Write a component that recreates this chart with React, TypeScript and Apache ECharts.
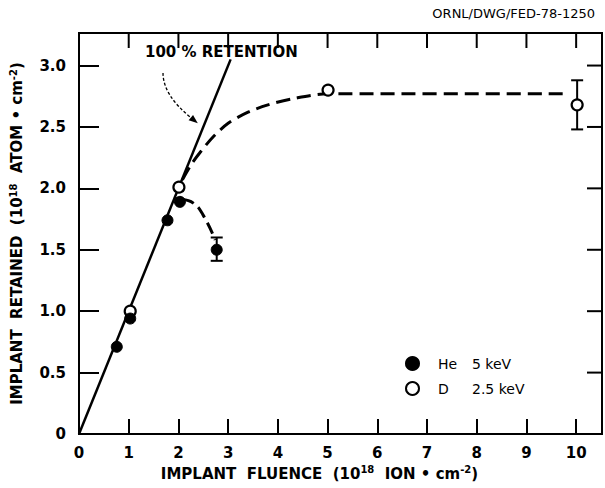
import React, { useEffect, useRef } from "react";
import * as echarts from "echarts";

// Data
const heFluence = [0.76, 1.03, 1.78, 2.03, 2.77];
const heRetained = [0.71, 0.94, 1.74, 1.89, 1.5];
const dFluence = [1.03, 2.01, 5.01, 10.02];
const dRetained = [1.0, 2.01, 2.8, 2.68];
const errX = [2.77, 10.02];
const errLow = [1.41, 2.48];
const errHigh = [1.6, 2.88];
const retentionX = [0, 3.05];
const retentionY = [0, 3.05];
const dFitX = [2.08, 2.25, 2.45, 2.7, 3.0, 3.4, 3.8, 4.3, 5.0, 9.78];
const dFitY = [2.07, 2.19, 2.3, 2.42, 2.53, 2.62, 2.68, 2.73, 2.77, 2.77];
const heFitX = [2.08, 2.3, 2.5, 2.74];
const heFitY = [1.91, 1.88, 1.78, 1.58];
// annotation arrow: start, control, end (data units)
const arrowPts = [1.69, 2.94, 1.69, 2.76, 2.39, 2.53];
const xTicks = [0, 1, 2, 3, 4, 5, 6, 7, 8, 9, 10];
const yTicks = [0, 0.5, 1.0, 1.5, 2.0, 2.5, 3.0];
const X_MAX = 10.52;
const Y_MAX = 3.265;

const FONT = "DejaVu Sans";
const zip = (a: number[], b: number[]) => a.map((v, i) => [v, b[i]]);

export default function App() {
  const ref = useRef<HTMLDivElement>(null);
  useEffect(() => {
    const chart = echarts.init(ref.current!, undefined, { renderer: "svg" });
    const xLabel = (v: number) => (xTicks.includes(Math.round(v * 100) / 100) ? String(v) : "");
    const yLabel = (v: number) => {
      const r = Math.round(v * 100) / 100;
      if (!yTicks.includes(r)) return "";
      return r === 0 ? "0" : r.toFixed(1);
    };
    const supRich = {
      sup: {
        fontSize: 10,
        fontWeight: "bold",
        verticalAlign: "bottom",
        padding: [0, 0, 8, 0],
        fontFamily: FONT,
        color: "#000",
      },
    };
    const stroke = { stroke: "#000", lineWidth: 2 };
    // frame items: [kind, value] kind 0 = top edge, 1 = right edge, 2 = top tick, 3 = right tick
    const frameData = [
      [0, 0],
      [1, 0],
      ...xTicks.filter((v) => v > 0).map((v) => [2, v]),
      ...yTicks.filter((v) => v > 0).map((v) => [3, v]),
    ];
    chart.setOption({
      animation: false,
      title: [
        {
          text: "ORNL/DWG/FED-78-1250",
          right: 5,
          top: 2,
          textStyle: { fontFamily: FONT, fontSize: 13, fontWeight: "normal", color: "#000" },
        },
        {
          text: "100 % RETENTION",
          left: 140,
          top: 39,
          textStyle: { fontFamily: FONT, fontSize: 15, fontWeight: "bold", color: "#000" },
        },
      ],
      grid: { left: 79, right: 3, top: 33, bottom: 54, show: true, borderColor: "#000", borderWidth: 2 },
      legend: {
        orient: "vertical",
        left: 400,
        top: 351,
        itemWidth: 13,
        itemHeight: 13,
        itemGap: 10,
        data: ["He 5 keV", "D 2.5 keV"],
        formatter: (name: string) => {
          const [a, ...rest] = name.split(" ");
          return `{a|${a}}{b|${rest.join(" ")}}`;
        },
        textStyle: {
          fontFamily: FONT,
          fontSize: 14,
          color: "#000",
          padding: [0, 0, 0, 14],
          rich: {
            a: { width: 34, fontSize: 14, fontFamily: FONT, color: "#000" },
            b: { fontSize: 14, fontFamily: FONT, color: "#000" },
          },
        },
      },
      xAxis: {
        type: "value",
        min: 0,
        max: X_MAX,
        interval: 1,
        position: "bottom",
        splitLine: { show: false },
        axisLine: { show: true, onZero: false, lineStyle: { color: "#000", width: 2 } },
        axisTick: { show: true, inside: true, length: 15, lineStyle: { color: "#000", width: 2 } },
        axisLabel: { formatter: xLabel, margin: 11, fontSize: 15, fontWeight: "bold", fontFamily: FONT, color: "#000" },
        name: "IMPLANT  FLUENCE  (10{sup|18}  ION • cm{sup|-2})",
        nameLocation: "middle",
        nameGap: 28,
        nameTextStyle: {
          fontFamily: FONT,
          fontSize: 15,
          fontWeight: "bold",
          color: "#000",
          padding: [0, 42, 0, 0],
          rich: supRich,
        },
      },
      yAxis: {
        type: "value",
        min: 0,
        max: Y_MAX,
        interval: 0.5,
        position: "left",
        splitLine: { show: false },
        axisLine: { show: true, onZero: false, lineStyle: { color: "#000", width: 2 } },
        axisTick: { show: true, inside: true, length: 20, lineStyle: { color: "#000", width: 2 } },
        axisLabel: { formatter: yLabel, margin: 13, fontSize: 15, fontWeight: "bold", fontFamily: FONT, color: "#000" },
        name: "IMPLANT  RETAINED  (10{sup|18}  ATOM • cm{sup|-2})",
        nameLocation: "middle",
        nameGap: 53,
        nameTextStyle: { fontFamily: FONT, fontSize: 15, fontWeight: "bold", color: "#000", rich: supRich },
      },
      series: [
        {
          type: "custom",
          name: "frame",
          data: frameData,
          encode: { x: 1, y: 1 },
          renderItem: (params: any, api: any) => {
            const kind = api.value(0);
            const v = api.value(1);
            const tl = api.coord([0, Y_MAX]);
            const br = api.coord([X_MAX, 0]);
            const top = tl[1];
            const right = br[0];
            if (kind === 0) {
              return { type: "line", shape: { x1: tl[0] - 1, y1: top, x2: right + 1, y2: top }, style: stroke };
            }
            if (kind === 1) {
              return { type: "line", shape: { x1: right, y1: top - 1, x2: right, y2: br[1] + 1 }, style: stroke };
            }
            if (kind === 2) {
              const x = api.coord([v, 0])[0];
              return { type: "line", shape: { x1: x, y1: top, x2: x, y2: top + 15 }, style: stroke };
            }
            const y = api.coord([0, v])[1];
            return { type: "line", shape: { x1: right, y1: y, x2: right - 15, y2: y }, style: stroke };
          },
        },
        {
          type: "line",
          name: "100% retention",
          data: zip(retentionX, retentionY),
          showSymbol: false,
          lineStyle: { color: "#000", width: 2.5 },
        },
        {
          type: "custom",
          name: "arrow",
          data: [arrowPts],
          encode: { x: [0, 2, 4], y: [1, 3, 5] },
          renderItem: (params: any, api: any) => {
            const p0 = api.coord([api.value(0), api.value(1)]);
            const c = api.coord([api.value(2), api.value(3)]);
            const p1 = api.coord([api.value(4), api.value(5)]);
            const dx = p1[0] - c[0];
            const dy = p1[1] - c[1];
            const len = Math.hypot(dx, dy);
            const ux = dx / len;
            const uy = dy / len;
            const hl = 9;
            const hw = 3.5;
            const bx = p1[0] - ux * hl;
            const by = p1[1] - uy * hl;
            return {
              type: "group",
              children: [
                {
                  type: "bezierCurve",
                  shape: { x1: p0[0], y1: p0[1], cpx1: c[0], cpy1: c[1], x2: bx, y2: by },
                  style: { stroke: "#000", lineWidth: 1.3, lineDash: [3, 2], fill: "none" },
                },
                {
                  type: "polygon",
                  shape: {
                    points: [
                      [p1[0], p1[1]],
                      [bx - uy * hw, by + ux * hw],
                      [bx + uy * hw, by - ux * hw],
                    ],
                  },
                  style: { fill: "#000" },
                },
              ],
            };
          },
        },
        {
          type: "line",
          name: "D fit",
          data: zip(dFitX, dFitY),
          showSymbol: false,
          smooth: 0.3,
          lineStyle: { color: "#000", width: 3, type: [14, 7] },
        },
        {
          type: "line",
          name: "He fit",
          data: zip(heFitX, heFitY),
          showSymbol: false,
          smooth: 0.5,
          lineStyle: { color: "#000", width: 3, type: [12, 6] },
        },
        {
          type: "custom",
          name: "error bars",
          data: errX.map((x, i) => [x, errLow[i], errHigh[i]]),
          encode: { x: 0, y: [1, 2] },
          renderItem: (params: any, api: any) => {
            const x = api.value(0);
            const lo = api.coord([x, api.value(1)]);
            const hi = api.coord([x, api.value(2)]);
            const cap = 6;
            return {
              type: "group",
              children: [
                { type: "line", shape: { x1: lo[0], y1: lo[1], x2: hi[0], y2: hi[1] }, style: stroke },
                { type: "line", shape: { x1: lo[0] - cap, y1: lo[1], x2: lo[0] + cap, y2: lo[1] }, style: stroke },
                { type: "line", shape: { x1: hi[0] - cap, y1: hi[1], x2: hi[0] + cap, y2: hi[1] }, style: stroke },
              ],
            };
          },
        },
        {
          type: "scatter",
          name: "He 5 keV",
          data: zip(heFluence, heRetained),
          symbol: "circle",
          symbolSize: 11,
          itemStyle: { color: "#000", borderColor: "#000", borderWidth: 1, opacity: 1 },
          z: 5,
        },
        {
          type: "scatter",
          name: "D 2.5 keV",
          data: zip(dFluence, dRetained),
          symbol: "circle",
          symbolSize: 11,
          itemStyle: { color: "#fff", borderColor: "#000", borderWidth: 2.2, opacity: 1 },
          z: 4,
        },
      ],
    });
    return () => chart.dispose();
  }, []);
  return (
    <div
      ref={ref}
      style={{ position: "fixed", left: 0, top: 0, width: 605, height: 488, background: "#fff" }}
    />
  );
}
